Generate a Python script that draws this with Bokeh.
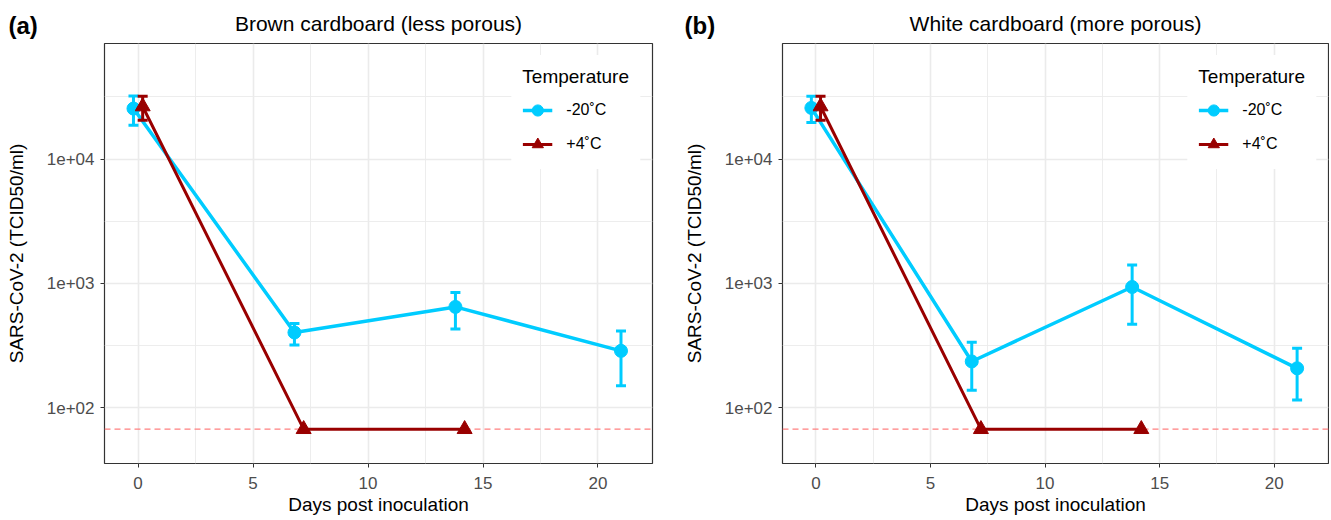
from bokeh.plotting import figure
from bokeh.layouts import row, column
from bokeh.models import (ColumnDataSource, Whisker, TeeHead, FixedTicker, Span,
                          Legend, LegendItem, Range1d, CustomJSTickFormatter)
from bokeh.core.properties import value
from bokeh.embed import file_html
from bokeh.resources import INLINE

# ---------------- data ----------------
days_cold = [0, 7, 14, 21]
days_warm = [0, 7, 14]

# Panel (a) brown cardboard
a_cold = [25500, 402, 646, 286]
a_cold_lo = [18700, 319, 428, 150]
a_cold_hi = [32100, 474, 843, 414]
a_warm = [26500, 67, 67]
a_warm_lo = [20500, 67, 67]
a_warm_hi = [32000, 67, 67]

# Panel (b) white cardboard
b_cold = [25800, 235, 934, 207]
b_cold_lo = [19700, 138, 469, 115]
b_cold_hi = [32000, 336, 1403, 300]
b_warm = [26500, 67, 67]
b_warm_lo = [20500, 67, 67]
b_warm_hi = [32000, 67, 67]

detection_limit = 67
series_labels = ["-20\u02daC", "+4\u02daC"]
titles = ["Brown cardboard (less porous)", "White cardboard (more porous)"]
panel_tags = ["(a)", "(b)"]
x_ticks = [0, 5, 10, 15, 20]
y_ticks = [100, 1000, 10000]

# ---------------- style / layout ----------------
FONT = "Liberation Sans"
CYAN = "#00CCFF"
RED = "#990000"
DODGE = 0.2
HEADER_H = 42
MAIN_H = 478
W_A, LEFT_A, RIGHT_A = 660, 104, 8
W_B, LEFT_B, RIGHT_B = 669, 122, 1


def dodge(days, other, sign):
    return [d + sign * DODGE if d in other else d for d in days]


def make_panel(cold, cold_lo, cold_hi, warm, warm_lo, warm_hi, width, left, right):
    p = figure(width=width, height=MAIN_H, y_axis_type="log", title=None,
               x_range=Range1d(-1.46, 22.37), y_range=Range1d(10 ** 1.55, 10 ** 4.93),
               output_backend="svg", toolbar_location=None,
               min_border_left=left, min_border_right=right,
               min_border_top=1, min_border_bottom=57)

    p.outline_line_color = "#333333"
    p.outline_line_width = 1.2
    p.background_fill_color = "white"
    p.border_fill_color = "white"

    p.xaxis.ticker = FixedTicker(ticks=x_ticks, minor_ticks=[2.5, 7.5, 12.5, 17.5])
    p.yaxis.ticker = FixedTicker(ticks=y_ticks, minor_ticks=[10 ** 2.5, 10 ** 3.5, 10 ** 4.5])
    p.yaxis.formatter = CustomJSTickFormatter(
        code="return tick.toExponential(0).replace('e+', 'e+0');")

    for ax in (p.xaxis, p.yaxis):
        ax.axis_line_color = None
        ax.major_tick_line_color = "#333333"
        ax.major_tick_out = 4
        ax.major_tick_in = 0
        ax.minor_tick_out = 0
        ax.minor_tick_in = 0
        ax.major_label_text_font = FONT
        ax.major_label_text_font_size = "17px"
        ax.major_label_text_color = "#4D4D4D"
        ax.axis_label_text_font = FONT
        ax.axis_label_text_font_size = "19px"
        ax.axis_label_text_font_style = "normal"
        ax.axis_label_text_color = "#000000"
    p.xaxis.axis_label = "Days post inoculation"
    p.yaxis.axis_label = "SARS-CoV-2 (TCID50/ml)"
    p.xaxis.major_label_standoff = 9
    p.xaxis.axis_label_standoff = 2
    p.yaxis.major_label_standoff = 6
    p.yaxis.axis_label_standoff = 17

    p.grid.grid_line_color = "#EBEBEB"
    p.grid.grid_line_width = 1.6
    p.grid.minor_grid_line_color = "#EBEBEB"
    p.grid.minor_grid_line_width = 0.9

    p.add_layout(Span(location=detection_limit, dimension="width", line_color="#FF8080",
                      line_dash="6 4", line_width=1.3, level="underlay"))

    xc = dodge(days_cold, days_warm, -1)
    xw = dodge(days_warm, days_cold, +1)

    src_c = ColumnDataSource(dict(x=xc, y=cold))
    eb_c = [i for i in range(len(xc)) if cold_hi[i] > cold_lo[i]]
    src_ce = ColumnDataSource(dict(x=[xc[i] for i in eb_c], lo=[cold_lo[i] for i in eb_c],
                                   hi=[cold_hi[i] for i in eb_c]))
    src_w = ColumnDataSource(dict(x=xw, y=warm))
    eb_w = [i for i in range(len(xw)) if warm_hi[i] > warm_lo[i]]
    src_we = ColumnDataSource(dict(x=[xw[i] for i in eb_w], lo=[warm_lo[i] for i in eb_w],
                                   hi=[warm_hi[i] for i in eb_w]))

    p.add_layout(Whisker(base="x", lower="lo", upper="hi", source=src_ce,
                         line_color=CYAN, line_width=3, level="glyph",
                         upper_head=TeeHead(size=10, line_color=CYAN, line_width=3),
                         lower_head=TeeHead(size=10, line_color=CYAN, line_width=3)))
    lc = p.line("x", "y", source=src_c, line_color=CYAN, line_width=3.5)
    mc = p.scatter("x", "y", source=src_c, marker="circle", size=13,
                   fill_color=CYAN, line_color=CYAN)

    p.add_layout(Whisker(base="x", lower="lo", upper="hi", source=src_we,
                         line_color=RED, line_width=3, level="glyph",
                         upper_head=TeeHead(size=10, line_color=RED, line_width=3),
                         lower_head=TeeHead(size=10, line_color=RED, line_width=3)))
    lw = p.line("x", "y", source=src_w, line_color=RED, line_width=3)
    mw = p.scatter("x", "y", source=src_w, marker="triangle", size=15,
                   fill_color=RED, line_color=RED)

    legend = Legend(items=[LegendItem(label=series_labels[0], renderers=[lc, mc]),
                           LegendItem(label=series_labels[1], renderers=[lw, mw])],
                    location="top_right", title="Temperature")
    legend.margin = 12
    legend.padding = 11
    legend.title_text_font = FONT
    legend.title_text_font_size = "19px"
    legend.title_text_font_style = "normal"
    legend.title_text_color = "#000000"
    legend.title_standoff = 8
    legend.label_text_font = FONT
    legend.label_text_font_size = "16px"
    legend.label_text_color = "#000000"
    legend.glyph_width = 30
    legend.glyph_height = 28
    legend.label_height = 28
    legend.spacing = 6
    legend.label_standoff = 14
    legend.border_line_alpha = 0
    legend.background_fill_color = "white"
    legend.background_fill_alpha = 1
    p.add_layout(legend)
    return p


pa = make_panel(a_cold, a_cold_lo, a_cold_hi, a_warm, a_warm_lo, a_warm_hi,
                width=W_A, left=LEFT_A, right=RIGHT_A)
pb = make_panel(b_cold, b_cold_lo, b_cold_hi, b_warm, b_warm_lo, b_warm_hi,
                width=W_B, left=LEFT_B, right=RIGHT_B)

# header strip holding the panel tags and centred panel titles
TOTAL_W = W_A + W_B
head = figure(width=TOTAL_W, height=HEADER_H, x_range=Range1d(0, TOTAL_W),
              y_range=Range1d(HEADER_H, 0), x_axis_type=None, y_axis_type=None,
              output_backend="svg", toolbar_location=None, title=None,
              min_border_left=0, min_border_right=0, min_border_top=0, min_border_bottom=0)
head.outline_line_color = None
head.background_fill_color = "white"
head.border_fill_color = "white"

title_x = [LEFT_A + (W_A - LEFT_A - RIGHT_A) / 2,
           W_A + LEFT_B + (W_B - LEFT_B - RIGHT_B) / 2]
tag_x = [8, W_A + 24]
head.text(x=title_x, y=[23, 23], text=titles, text_font=value(FONT),
          text_font_size=value("21px"), text_color="#000000",
          text_align="center", text_baseline="middle")
head.text(x=tag_x, y=[25, 25], text=panel_tags, text_font=value(FONT),
          text_font_size=value("24px"), text_font_style="bold", text_color="#000000",
          text_align="left", text_baseline="middle")

layout = column(head, row(pa, pb))
open("out.html", "w").write(file_html(layout, INLINE))
